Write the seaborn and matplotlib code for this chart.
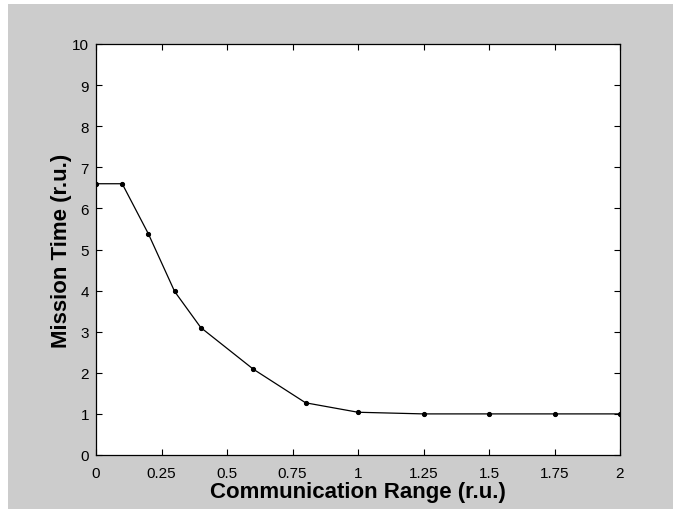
import matplotlib
matplotlib.use("Agg")
import matplotlib.pyplot as plt
import seaborn as sns
import pandas as pd
from matplotlib.patches import Rectangle

comm_range = [0, 0.1, 0.2, 0.3, 0.4, 0.6, 0.8, 1.0, 1.25, 1.5, 1.75, 2.0]
mission_time = [6.6, 6.6, 5.38, 3.98, 3.1, 2.09, 1.27, 1.04, 1.0, 1.0, 1.0, 1.0]
x_ticks = [0, 0.25, 0.5, 0.75, 1, 1.25, 1.5, 1.75, 2]
x_tick_labels = ["0", "0.25", "0.5", "0.75", "1", "1.25", "1.5", "1.75", "2"]
y_ticks = list(range(0, 11))

df = pd.DataFrame({"x": comm_range, "y": mission_time})

sns.set_theme(style="white")
plt.rcParams['font.family'] = ['Liberation Sans', 'DejaVu Sans']

fig = plt.figure(figsize=(6.73, 5.10), dpi=100, facecolor="white")
fig.patches.append(Rectangle((8 / 673, 0), 1 - 8 / 673, 1 - 5 / 510,
                             transform=fig.transFigure, facecolor="#cccccc",
                             edgecolor="none", zorder=-10))
ax = fig.add_axes([96 / 673, 54 / 510, (620 - 96) / 673, (456 - 45) / 510])
ax.set_zorder(1)
ax.set_facecolor("white")

sns.lineplot(data=df, x="x", y="y", ax=ax, color="black", linewidth=0.9,
             marker="o", markersize=3, markeredgecolor="black",
             markerfacecolor="black")

ax.set_xlim(0, 2)
ax.set_ylim(0, 10)
ax.set_xticks(x_ticks)
ax.set_xticklabels(x_tick_labels)
ax.set_yticks(y_ticks)
ax.tick_params(axis="both", direction="in", length=4, width=0.8, color="black",
               labelsize=11, labelcolor="black",
               top=True, right=True, bottom=True, left=True)
ax.tick_params(axis="x", pad=8)
ax.tick_params(axis="y", pad=5)
for s in ax.spines.values():
    s.set_visible(True)
    s.set_color("black")
    s.set_linewidth(0.9)

ax.set_xlabel("Communication Range (r.u.)", fontsize=16, fontweight="bold",
              color="black", labelpad=1)
ax.set_ylabel("Mission Time (r.u.)", fontsize=16, fontweight="bold",
              color="black", labelpad=0)

fig.savefig("out.png", dpi=100, facecolor=fig.get_facecolor())
